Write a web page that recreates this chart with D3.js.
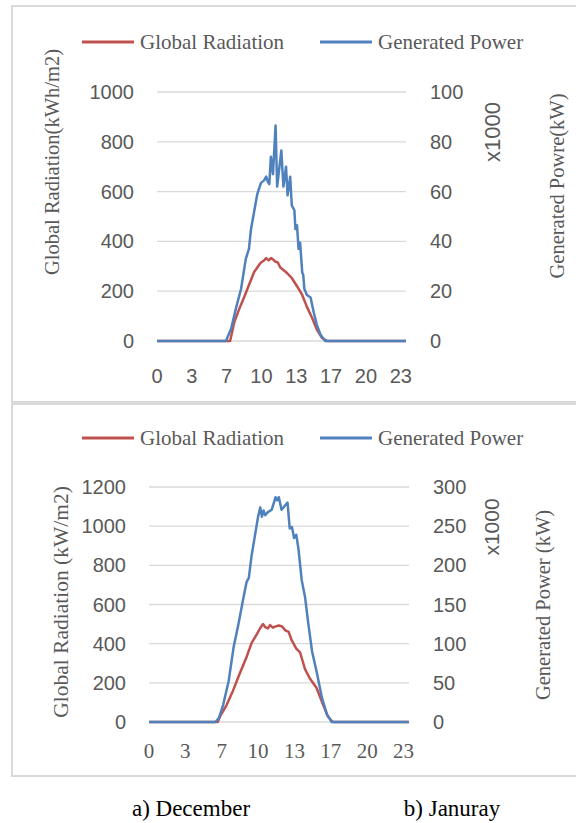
<!DOCTYPE html>
<html>
<head>
<meta charset="utf-8">
<script src="https://cdn.jsdelivr.net/npm/d3@7"></script>
<style>
  body { margin: 0; background: #fff; }
  svg { display: block; }
</style>
</head>
<body>
<div id="chart"></div>
<script>
// Daily profiles, 10 min samples (hours)

// December
const decRadTime = [0, 7.0, 7.4, 7.9, 8.35, 8.8, 9.3, 9.9, 10.2, 10.45, 10.7, 10.9, 11.1, 11.35, 11.55, 11.8, 12.1, 12.45, 12.9, 13.4, 13.9, 14.35, 14.85, 15.3, 15.8, 16.3, 23.83];
const decRad = [0, 0, 76, 132, 177, 225, 277, 313, 322, 333, 324, 333, 328, 318, 316, 295, 285, 273, 253, 220, 185, 137, 92, 46, 12, 0, 0];
const decPowTime = [0, 6.6, 7.1, 7.55, 8.05, 8.5, 8.8, 9.0, 9.3, 9.6, 9.95, 10.25, 10.45, 10.6, 10.75, 10.9, 11.1, 11.35, 11.5, 11.9, 12.1, 12.35, 12.5, 12.75, 12.9, 13.15, 13.25, 13.4, 13.55, 13.7, 13.9, 14.0, 14.1, 14.35, 14.7, 15.0, 15.3, 15.65, 16.1, 23.83];
const decPow = [0, 0, 5, 13, 21, 33, 37, 45, 52, 59, 63.5, 64.5, 66, 64, 63, 74, 67, 86.5, 62, 76.5, 62, 70, 58.5, 66, 54.5, 52.5, 45, 46.5, 37, 39.5, 27.5, 26.5, 21, 18.5, 17.5, 11.5, 6.5, 2.5, 0, 0];

// January
const janRadTime = [0, 6.3, 6.5, 7.1, 7.7, 8.3, 8.9, 9.4, 9.9, 10.2, 10.45, 10.65, 10.9, 11.1, 11.35, 11.55, 11.9, 12.2, 12.5, 12.8, 13.1, 13.5, 13.85, 14.3, 14.75, 15.35, 15.9, 16.4, 16.85, 23.83];
const janRad = [0, 0, 27, 85, 160, 245, 325, 403, 450, 480, 500, 485, 478, 495, 482, 487, 493, 488, 468, 460, 415, 375, 355, 270, 222, 175, 97, 28, 0, 0];
const janPowTime = [0, 6.1, 6.4, 6.8, 7.3, 7.75, 8.2, 8.65, 8.95, 9.15, 9.4, 9.7, 10.0, 10.2, 10.35, 10.5, 10.65, 10.9, 11.25, 11.45, 11.6, 11.75, 11.9, 12.15, 12.45, 12.7, 12.9, 13.1, 13.3, 13.5, 13.7, 14.0, 14.3, 14.6, 14.95, 15.4, 15.85, 16.3, 16.75, 23.83];
const janPow = [0, 0, 5, 22, 52, 95, 125, 158, 179, 184, 212, 237, 262, 274, 262, 270, 264, 268, 271, 280, 287, 283, 287, 271, 276, 280, 247, 249, 235, 239, 221, 181, 160, 126, 90, 62, 31, 10, 0, 0];

// Axis ticks
const xTickLabels = ['0', '3', '7', '10', '13', '17', '20', '23'];
const decLeftTicks = [0, 200, 400, 600, 800, 1000];
const decRightTicks = [0, 20, 40, 60, 80, 100];
const janLeftTicks = [0, 200, 400, 600, 800, 1000, 1200];
const janRightTicks = [0, 50, 100, 150, 200, 250, 300];

const seriesNames = ['Global Radiation', 'Generated Power'];
const captions = ['a) December', 'b) Januray'];

const colors = { rad: '#c0504d', pow: '#4f81bd' };
const gray = '#595959';
const sans = '"Liberation Sans", Arial, sans-serif';
const serif = '"Liberation Serif", "Times New Roman", serif';

const svg = d3.select('#chart').append('svg').attr('width', 576).attr('height', 823);

function drawPanel(p) {
  // Frame
  svg
    .append('rect')
    .attr('x', 12)
    .attr('y', p.frameTop)
    .attr('width', 600)
    .attr('height', p.frameBottom - p.frameTop)
    .attr('fill', 'none')
    .attr('stroke', '#d9d9d9')
    .style('stroke-width', '2px');

  // Scales: 144 samples of 10 minutes
  const x = d3.scaleLinear().domain([0, 143 / 6]).range([p.left, p.right]);
  const yL = d3.scaleLinear().domain([0, d3.max(p.leftTicks)]).range([p.bottom, p.top]);
  const yR = d3.scaleLinear().domain([0, d3.max(p.rightTicks)]).range([p.bottom, p.top]);

  // Grid lines
  svg
    .append('g')
    .selectAll('line')
    .data(p.leftTicks)
    .enter()
    .append('line')
    .attr('x1', p.left)
    .attr('x2', p.right)
    .attr('y1', (d) => yL(d))
    .attr('y2', (d) => yL(d))
    .attr('stroke', '#d9d9d9')
    .style('stroke-width', '1.3px');

  // Left ticks
  svg
    .append('g')
    .selectAll('text')
    .data(p.leftTicks)
    .enter()
    .append('text')
    .attr('x', p.left - 23)
    .attr('y', (d) => yL(d))
    .attr('dy', '0.35em')
    .attr('text-anchor', 'end')
    .style('font', `20px ${sans}`)
    .attr('fill', gray)
    .text((d) => d);

  // Right ticks
  svg
    .append('g')
    .selectAll('text')
    .data(p.rightTicks)
    .enter()
    .append('text')
    .attr('x', p.right + 24)
    .attr('y', (d) => yR(d))
    .attr('dy', '0.35em')
    .style('font', `20px ${sans}`)
    .attr('fill', gray)
    .text((d) => d);

  // X ticks, every 20 samples
  svg
    .append('g')
    .selectAll('text')
    .data(xTickLabels)
    .enter()
    .append('text')
    .attr('x', (d, i) => x((i * 20) / 6))
    .attr('y', p.xLabelY)
    .attr('dy', '0.35em')
    .attr('text-anchor', 'middle')
    .style('font', `${p.xSize}px ${p.xFont}`)
    .attr('fill', gray)
    .text((d) => d);

  // Lines
  const lineL = d3.line().x((d) => x(d[0])).y((d) => yL(d[1]));
  const lineR = d3.line().x((d) => x(d[0])).y((d) => yR(d[1]));
  svg
    .append('path')
    .attr('d', lineL(d3.zip(p.radTime, p.rad)))
    .attr('fill', 'none')
    .attr('stroke', colors.rad)
    .style('stroke-width', '2.5px')
    .style('stroke-linejoin', 'round');
  svg
    .append('path')
    .attr('d', lineR(d3.zip(p.powTime, p.pow)))
    .attr('fill', 'none')
    .attr('stroke', colors.pow)
    .style('stroke-width', '2.5px')
    .style('stroke-linejoin', 'round');

  // Legend
  const legend = svg.append('g');
  const legendX = [82, 320];
  const legendColors = [colors.rad, colors.pow];
  seriesNames.forEach((name, i) => {
    legend
      .append('line')
      .attr('x1', legendX[i])
      .attr('x2', legendX[i] + 52)
      .attr('y1', p.legendY)
      .attr('y2', p.legendY)
      .attr('stroke', legendColors[i])
      .style('stroke-width', '3px');
    legend
      .append('text')
      .attr('x', legendX[i] + 58)
      .attr('y', p.legendY)
      .attr('dy', '0.33em')
      .style('font', `21px ${serif}`)
      .attr('fill', gray)
      .text(name);
  });

  // Axis titles
  svg
    .append('text')
    .attr('transform', `translate(${p.leftTitleX},${p.leftTitleY}) rotate(-90)`)
    .attr('text-anchor', 'middle')
    .attr('dy', '0.35em')
    .style('font', `${p.leftTitleSize}px ${serif}`)
    .attr('fill', gray)
    .text(p.leftTitle);
  svg
    .append('text')
    .attr('transform', `translate(492,${p.scaleY}) rotate(-90)`)
    .attr('text-anchor', 'middle')
    .attr('dy', '0.35em')
    .style('font', `${p.scaleSize}px ${sans}`)
    .attr('fill', gray)
    .text('x1000');
  svg
    .append('text')
    .attr('transform', `translate(${p.rightTitleX},${p.rightTitleY}) rotate(-90)`)
    .attr('text-anchor', 'middle')
    .attr('dy', '0.35em')
    .style('font', `20.5px ${serif}`)
    .attr('fill', gray)
    .text(p.rightTitle);
}

drawPanel({
  frameTop: 6,
  frameBottom: 402,
  left: 157,
  right: 406,
  top: 92,
  bottom: 341,
  leftTicks: decLeftTicks,
  rightTicks: decRightTicks,
  radTime: decRadTime,
  rad: decRad,
  powTime: decPowTime,
  pow: decPow,
  xLabelY: 376,
  xFont: sans,
  xSize: 20,
  legendY: 42,
  leftTitle: 'Global Radiation(kWh/m2)',
  leftTitleSize: 20.5,
  leftTitleX: 52,
  leftTitleY: 162,
  scaleY: 132,
  scaleSize: 22,
  rightTitle: 'Generated  Powre(kW)',
  rightTitleX: 557,
  rightTitleY: 186,
});

drawPanel({
  frameTop: 404,
  frameBottom: 776,
  left: 149,
  right: 409,
  top: 487,
  bottom: 722,
  leftTicks: janLeftTicks,
  rightTicks: janRightTicks,
  radTime: janRadTime,
  rad: janRad,
  powTime: janPowTime,
  pow: janPow,
  xLabelY: 751,
  xFont: serif,
  xSize: 21,
  legendY: 438,
  leftTitle: 'Global Radiation  (kW/m2)',
  leftTitleSize: 21.5,
  leftTitleX: 60,
  leftTitleY: 602,
  scaleY: 527,
  scaleSize: 21,
  rightTitle: 'Generated  Power  (kW)',
  rightTitleX: 543,
  rightTitleY: 605,
});

// Captions
svg
  .selectAll('.caption')
  .data(captions)
  .enter()
  .append('text')
  .attr('x', (d, i) => [191, 452][i])
  .attr('y', 808)
  .attr('dy', '0.35em')
  .attr('text-anchor', 'middle')
  .style('font', `23px ${serif}`)
  .attr('fill', '#000')
  .text((d) => d);
</script>
</body>
</html>
